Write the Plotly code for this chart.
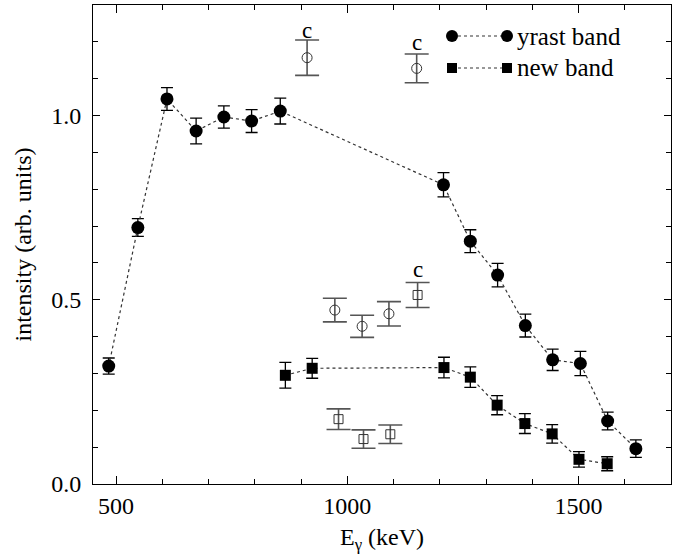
import plotly.graph_objects as go

# ---- data ----
yrast_e = [484, 547, 610, 673, 733, 793, 855, 1208, 1266, 1325, 1385, 1444, 1504, 1563, 1624]
yrast_i = [0.320, 0.696, 1.045, 0.958, 0.996, 0.985, 1.012, 0.812, 0.659, 0.567, 0.430, 0.337, 0.327, 0.171, 0.096]
yrast_err = [0.022, 0.024, 0.031, 0.035, 0.030, 0.031, 0.035, 0.033, 0.031, 0.032, 0.031, 0.029, 0.033, 0.024, 0.024]

new_e = [866, 924, 1209, 1266, 1324, 1384, 1443, 1501, 1562]
new_i = [0.295, 0.314, 0.316, 0.290, 0.214, 0.164, 0.136, 0.067, 0.055]
new_err = [0.035, 0.027, 0.028, 0.028, 0.026, 0.027, 0.025, 0.021, 0.019]

ocirc_e = [913, 1150, 973, 1032, 1090]
ocirc_i = [1.157, 1.128, 0.472, 0.428, 0.462]
ocirc_err = [0.048, 0.039, 0.032, 0.030, 0.033]

osq_e = [1152, 981, 1035, 1093]
osq_i = [0.513, 0.176, 0.122, 0.135]
osq_err = [0.034, 0.028, 0.025, 0.025]

c_label_e = [913, 1150, 1152]
c_label_i = [1.232, 1.197, 0.583]

legend_names = ["yrast band", "new band"]

FONT = "'Liberation Serif', 'Times New Roman', Tinos, 'DejaVu Serif', serif"
fig = go.Figure()

line_style = dict(color="#333333", width=1.2, dash="dot")

fig.add_trace(go.Scatter(
    x=yrast_e, y=yrast_i, mode="lines+markers", name=legend_names[0],
    line=line_style,
    marker=dict(symbol="circle", size=13, color="black"),
    error_y=dict(type="data", array=yrast_err, color="black", thickness=1.3, width=6),
    showlegend=False))

fig.add_trace(go.Scatter(
    x=new_e, y=new_i, mode="lines+markers", name=legend_names[1],
    line=line_style,
    marker=dict(symbol="square", size=11, color="black"),
    error_y=dict(type="data", array=new_err, color="black", thickness=1.3, width=6),
    showlegend=False))

fig.add_trace(go.Scatter(
    x=ocirc_e, y=ocirc_i, mode="markers",
    marker=dict(symbol="circle-open", size=10, color="#333333", line=dict(width=1)),
    error_y=dict(type="data", array=ocirc_err, color="#555555", thickness=1.6, width=12),
    showlegend=False))

fig.add_trace(go.Scatter(
    x=osq_e, y=osq_i, mode="markers",
    marker=dict(symbol="square-open", size=9, color="#333333", line=dict(width=1)),
    error_y=dict(type="data", array=osq_err, color="#555555", thickness=1.6, width=12),
    showlegend=False))

for xe, yi in zip(c_label_e, c_label_i):
    fig.add_annotation(x=xe, y=yi, text="c", showarrow=False,
                       font=dict(family=FONT, size=23, color="black"))

# ---- manual legend (symbol-dotted line-symbol) ----
PL, PR, PT, PB = 93, 671, 5, 484
def px(x):
    return (x - PL) / (PR - PL)
def py(y):
    return (PB - y) / (PB - PT)

leg_rows = [36, 68]
leg_x0, leg_x1, leg_tx = 452, 507, 515
for row, name, sym in zip(leg_rows, legend_names, ["circle", "square"]):
    fig.add_shape(type="line", xref="paper", yref="paper",
                  x0=px(leg_x0), x1=px(leg_x1), y0=py(row), y1=py(row),
                  line=dict(color="#333333", width=1.2, dash="dot"))
    for cx in (leg_x0, leg_x1):
        s = 6 if sym == "circle" else 5
        fig.add_shape(type="circle" if sym == "circle" else "rect",
                      xref="paper", yref="paper",
                      xsizemode="pixel", ysizemode="pixel",
                      xanchor=px(cx), yanchor=py(row),
                      x0=-s, x1=s, y0=-s, y1=s,
                      fillcolor="black", line=dict(color="black", width=0))
    fig.add_annotation(xref="paper", yref="paper", x=px(leg_tx), y=py(row),
                       xanchor="left", yanchor="middle", text=name, showarrow=False,
                       font=dict(family=FONT, size=25, color="black"))

axis_common = dict(
    showline=True, linecolor="black", linewidth=1, mirror="ticks",
    ticks="inside", tickcolor="black", tickwidth=1, showgrid=False, zeroline=False,
    tickfont=dict(family=FONT, size=24, color="black"),
)

fig.update_xaxes(range=[450, 1700], tick0=500, dtick=500, ticklen=8,
                 minor=dict(ticks="inside", dtick=100, tick0=500, ticklen=5, tickcolor="black", showgrid=False),
                 title=dict(text="E<sub>γ</sub> (keV)", font=dict(family=FONT, size=24, color="black"), standoff=10),
                 **axis_common)
fig.update_yaxes(range=[0, 1.3], tick0=0, dtick=0.5, tickformat=".1f", ticklen=7,
                 ticklabelstandoff=6,
                 minor=dict(ticks="inside", dtick=0.1, tick0=0, ticklen=5, tickcolor="black", showgrid=False),
                 title=dict(text="intensity (arb. units)", font=dict(family=FONT, size=24, color="black"), standoff=12),
                 **axis_common)

fig.update_layout(
    width=685, height=557,
    margin=dict(l=PL, r=685 - PR, t=PT, b=557 - PB),
    paper_bgcolor="white", plot_bgcolor="white",
    font=dict(family=FONT, color="black"),
)

fig.write_html("out.html")
